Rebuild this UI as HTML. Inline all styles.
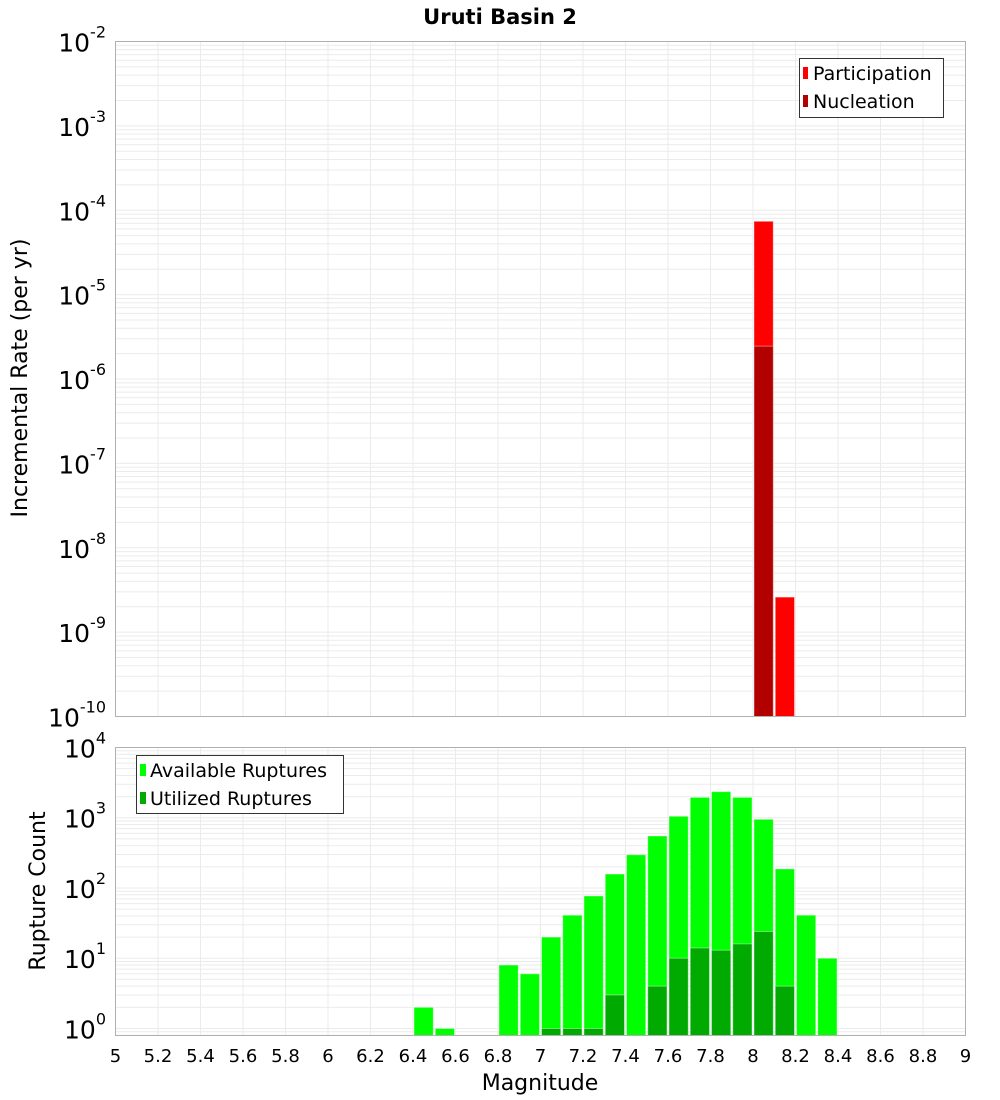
<!DOCTYPE html>
<html><head><meta charset="utf-8"><style>
body{margin:0;background:#fff;}
svg{display:block;font-family:"Liberation Sans","DejaVu Sans",sans-serif;}
</style></head><body>
<svg id="chart" width="1000" height="1100" viewBox="0 0 1000 1100">
<text x="500" y="24" font-size="21" font-weight="bold" text-anchor="middle" font-family="DejaVu Sans, sans-serif">Uruti Basin 2</text>
<text transform="translate(27,378) rotate(-90)" font-size="22" text-anchor="middle" font-family="DejaVu Sans, sans-serif">Incremental Rate (per yr)</text>
<text transform="translate(45,891) rotate(-90)" font-size="22" text-anchor="middle" font-family="DejaVu Sans, sans-serif">Rupture Count</text>
<text x="540" y="1090" font-size="22" text-anchor="middle" font-family="DejaVu Sans, sans-serif">Magnitude</text>
<g id="top"></g><g id="bot"></g>
<g>
<rect x="799.5" y="58.5" width="144" height="59" fill="#fff" stroke="#333"/>
<rect x="803" y="67" width="5" height="12" fill="#ff0000"/>
<text x="813" y="80" font-size="19" font-family="DejaVu Sans, sans-serif">Participation</text>
<rect x="803" y="95" width="5" height="12" fill="#b20000"/>
<text x="813" y="108" font-size="19" font-family="DejaVu Sans, sans-serif">Nucleation</text>
</g>
<g>
<rect x="136.5" y="755.5" width="207" height="58" fill="#fff" stroke="#333"/>
<rect x="140" y="764" width="6" height="12" fill="#00ff00"/>
<text x="150" y="777" font-size="19" font-family="DejaVu Sans, sans-serif">Available Ruptures</text>
<rect x="140" y="792" width="6" height="12" fill="#00aa00"/>
<text x="150" y="805" font-size="19" font-family="DejaVu Sans, sans-serif">Utilized Ruptures</text>
</g>
</svg>
<script>
const topMags=[8.05,8.15];
const participation=[7.4e-5,2.6e-9];
const nucleationMags=[8.05];
const nucleation=[2.45e-6];
const botMags=[6.45,6.55,6.85,6.95,7.05,7.15,7.25,7.35,7.45,7.55,7.65,7.75,7.85,7.95,8.05,8.15,8.25,8.35];
const available=[2,1,8,6,20,41,77,158,297,550,1050,1950,2350,1950,950,187,41,10];
const utilMags=[7.05,7.15,7.25,7.35,7.55,7.65,7.75,7.85,7.95,8.05,8.15];
const utilized=[1,1,1,3,4,10,14,13,16,24,4];
const xTicks=["5","5.2","5.4","5.6","5.8","6","6.2","6.4","6.6","6.8","7","7.2","7.4","7.6","7.8","8","8.2","8.4","8.6","8.8","9"];
const topExp=[-2,-3,-4,-5,-6,-7,-8,-9,-10];
const botExp=[4,3,2,1,0];

const NS="http://www.w3.org/2000/svg";
const X0=115.5,X1=965.5;
const xs=m=>X0+(m-5)/4*(X1-X0);
const T={top:41.5,bot:716.5,lmax:-2,lmin:-10};
const B={top:747.5,bot:1035.5,lmax:4.0,lmin:-0.1};
function ys(p,v){return p.top+(p.lmax-Math.log10(v))/(p.lmax-p.lmin)*(p.bot-p.top);}
function el(parent,tag,attrs){const e=document.createElementNS(NS,tag);for(const k in attrs)e.setAttribute(k,attrs[k]);parent.appendChild(e);return e;}
function panel(g,p,exps,name){
  const grid=el(g,'g',{});
  
  
  for(let d=Math.floor(p.lmin);d<p.lmax;d++){for(let k=1;k<10;k++){const l=d+Math.log10(k);if(l<p.lmin||l>p.lmax)continue;const y=ys(p,Math.pow(10,l));el(grid,'line',{x1:X0,x2:X1,y1:y,y2:y,stroke:'#ebebeb','stroke-width':1});}}
  xTicks.forEach(t=>{const x=xs(+t);el(grid,'line',{x1:x,x2:x,y1:p.top,y2:p.bot,stroke:'#ebebeb','stroke-width':1});});
  exps.forEach(e=>{const y=ys(p,Math.pow(10,e));
    const t=el(g,'text',{x:106,y:y+10,'font-size':25,'text-anchor':'end','font-family':'DejaVu Sans, sans-serif'});
    
    
    const a=document.createElementNS(NS,'tspan');a.textContent='10';t.appendChild(a);
    const b=document.createElementNS(NS,'tspan');b.setAttribute('dy','-14');b.setAttribute('font-size','16');b.textContent=String(e);t.appendChild(b);
  });
}
function bar(g,m,v,p,fill,name){const x=xs(m-0.05)+1,w=xs(m+0.05)-xs(m-0.05)-2;const y=ys(p,v);
  const r=el(g,'rect',{x:x,y:y,width:w,height:p.bot-y,fill:fill,stroke:'rgba(255,255,255,0.4)','stroke-width':1});
  
  }
const gt=document.getElementById('top'),gb=document.getElementById('bot');
panel(gt,T,topExp,'top');
panel(gb,B,botExp,'bottom');
topMags.forEach((m,i)=>bar(gt,m,participation[i],T,'#ff0000','participation-bar'));
nucleationMags.forEach((m,i)=>bar(gt,m,nucleation[i],T,'#b20000','nucleation-bar'));
botMags.forEach((m,i)=>bar(gb,m,available[i],B,'#00ff00','available-bar'));
utilMags.forEach((m,i)=>bar(gb,m,utilized[i],B,'#00aa00','utilized-bar'));
[T,B].forEach((p,i)=>{const r=el(i?gb:gt,'rect',{x:X0,y:p.top,width:X1-X0,height:p.bot-p.top,fill:'none',stroke:'#b0b0b0','stroke-width':1});
  
  });
xTicks.forEach(t=>{const tx=el(gb,'text',{x:xs(+t),y:1062,'font-size':18,'text-anchor':'middle','font-family':'DejaVu Sans, sans-serif'});
  tx.textContent=t;
  
  });
</script>
</body></html>
